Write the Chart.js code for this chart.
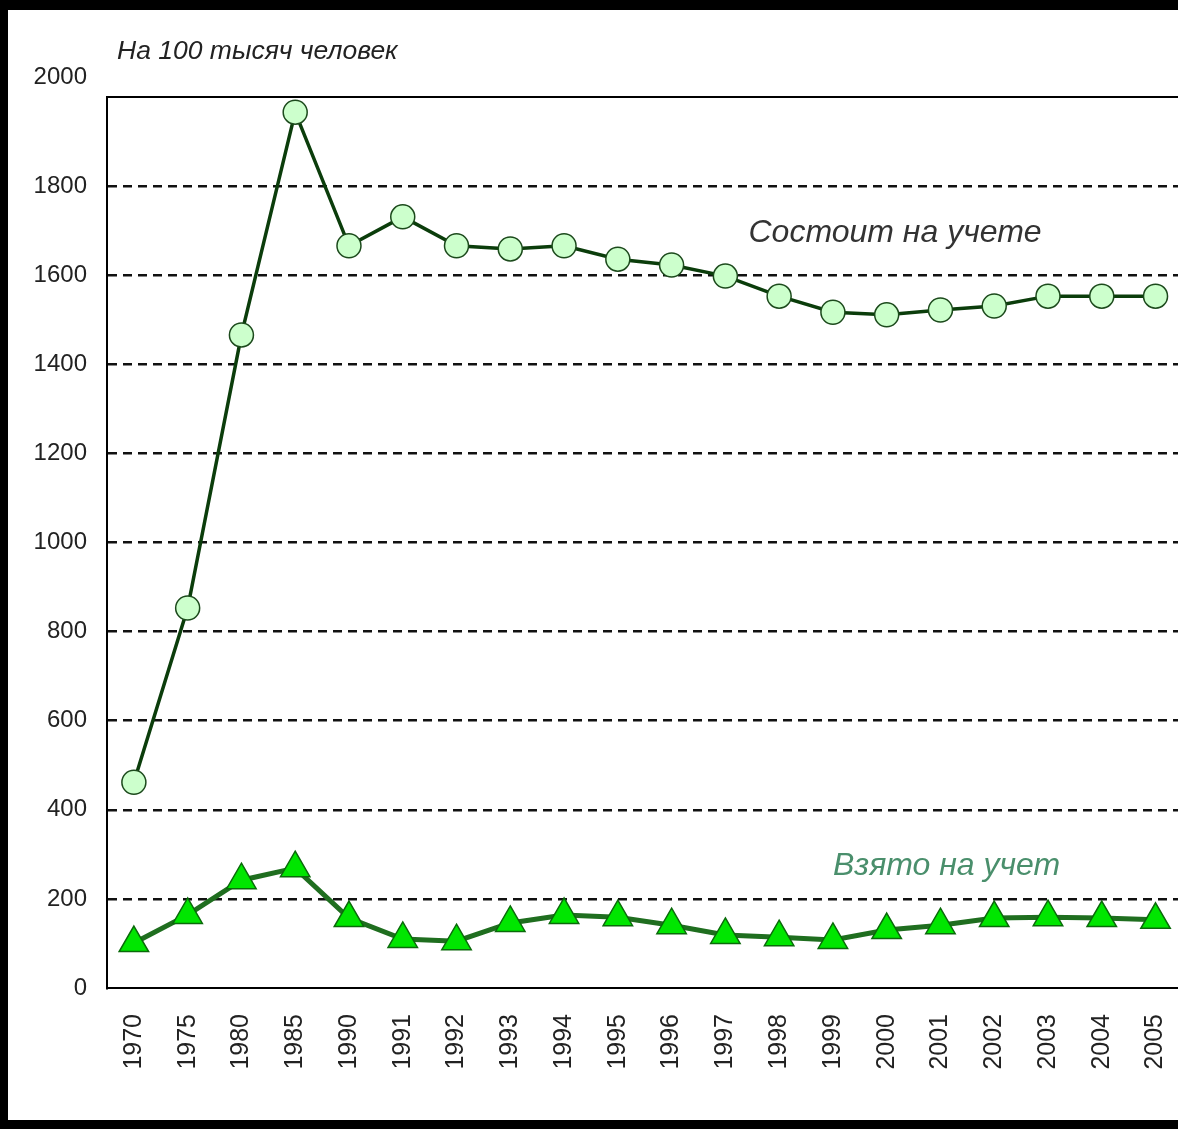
<!DOCTYPE html>
<html>
<head>
<meta charset="utf-8">
<script src="https://cdn.jsdelivr.net/npm/chart.js@4.4.1/dist/chart.umd.min.js"></script>
<style>
  html, body { margin: 0; padding: 0; background: #000; }
  #wrap { width: 1178px; height: 1129px; overflow: hidden; }
  #inner { width: 1204px; height: 1129px; position: relative; }
</style>
</head>
<body>
<div id="wrap"><div id="inner"><canvas id="grafico"></canvas></div></div>
<script>
// годы
const anos = ["1970", "1975", "1980", "1985", "1990", "1991", "1992", "1993", "1994", "1995",
              "1996", "1997", "1998", "1999", "2000", "2001", "2002", "2003", "2004", "2005"];
// состоит на учете, на 100 тысяч человек
const sostoit = [462, 853, 1466, 1966, 1666, 1731, 1666, 1659, 1666, 1636,
                 1623, 1598, 1553, 1517, 1511, 1522, 1531, 1553, 1553, 1553];
// взято на учет
const vzyato = [101, 164, 242, 269, 157, 110, 105, 146, 164, 159,
                141, 119, 114, 108, 130, 141, 157, 159, 157, 153];
const yTicks = [0, 200, 400, 600, 800, 1000, 1200, 1400, 1600, 1800, 2000];

// fundo preto com painel branco, borda superior e textos
const fundo = {
    id: "fundo",
    beforeDraw(chart) {
        const ctx = chart.ctx;
        ctx.save();
        ctx.fillStyle = "#000";
        ctx.fillRect(0, 0, chart.width, chart.height);
        ctx.fillStyle = "#fff";
        ctx.fillRect(8, 10, chart.width - 8, 1110);
        ctx.restore();
    },
    afterDraw(chart) {
        const ctx = chart.ctx;
        const a = chart.chartArea;
        const x = chart.scales.x, y = chart.scales.y;
        ctx.save();
        ctx.strokeStyle = "#000";
        ctx.lineWidth = 2;
        ctx.beginPath();
        ctx.moveTo(a.left, a.top);
        ctx.lineTo(chart.width, a.top);
        ctx.stroke();

        ctx.fillStyle = "#222";
        ctx.font = "24px 'Liberation Sans', Arial, sans-serif";
        ctx.textAlign = "right";
        ctx.textBaseline = "middle";
        ctx.fillText("2000", a.left - 20, y.getPixelForValue(2000) - 20);

        ctx.textAlign = "left";
        ctx.font = "italic 26.5px 'Liberation Sans', Arial, sans-serif";
        ctx.fillText("На 100 тысяч человек", 117, 52);

        ctx.font = "italic 32px 'Liberation Sans', Arial, sans-serif";
        ctx.fillStyle = "#333";
        ctx.fillText("Состоит на учете", x.getPixelForValue(11.43), y.getPixelForValue(1695));
        ctx.fillStyle = "#4a8f6c";
        ctx.fillText("Взято на учет", x.getPixelForValue(13.0), y.getPixelForValue(274));
        ctx.restore();
    }
};

new Chart(document.getElementById("grafico"), {
    type: "line",
    data: {
        labels: anos,
        datasets: [{
            label: "Состоит на учете",
            data: sostoit,
            borderColor: "#0b3d0b",
            borderWidth: 3.5,
            pointStyle: "circle",
            pointRadius: 12,
            pointBackgroundColor: "#ccffcc",
            pointBorderColor: "#1c4a1c",
            pointBorderWidth: 1.5,
            tension: 0
        }, {
            label: "Взято на учет",
            data: vzyato,
            borderColor: "#1f6e1f",
            borderWidth: 5,
            pointStyle: "triangle",
            pointRadius: 17,
            pointBackgroundColor: "#00e600",
            pointBorderColor: "#0a6a0a",
            pointBorderWidth: 1.5,
            tension: 0
        }]
    },
    options: {
        responsive: true,
        maintainAspectRatio: false,
        animation: false,
        clip: false,
        layout: { padding: { left: 8, top: 97, right: 1, bottom: 0 } },
        plugins: {
            legend: { display: false },
            title: { display: false },
            tooltip: { enabled: false }
        },
        scales: {
            x: {
                offset: true,
                grid: { display: false },
                border: { display: true, color: "#000", width: 2 },
                ticks: {
                    minRotation: 90,
                    maxRotation: 90,
                    padding: 18,
                    color: "#222",
                    font: { family: "'Liberation Sans', Arial, sans-serif", size: 25 }
                },
                afterFit(s) { s.height = 141; }
            },
            y: {
                min: 0,
                max: 2000,
                afterBuildTicks(s) { s.ticks = yTicks.map(v => ({ value: v })); },
                grid: {
                    drawTicks: false,
                    lineWidth: 2.5,
                    color: c => (c.tick.value === 0 || c.tick.value === 2000) ? "rgba(0,0,0,0)" : "#111"
                },
                border: { display: true, color: "#000", width: 2, dash: [9, 6] },
                ticks: {
                    padding: 20,
                    color: "#222",
                    font: { family: "'Liberation Sans', Arial, sans-serif", size: 24 },
                    callback: v => v === 2000 ? "" : v
                },
                afterFit(s) { s.width = 99; }
            }
        }
    },
    plugins: [fundo]
});
</script>
</body>
</html>
